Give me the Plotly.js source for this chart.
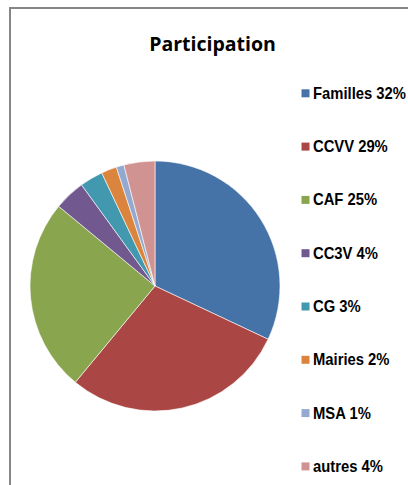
<!DOCTYPE html>
<html>
<head>
<meta charset="utf-8">
<script src="https://cdn.plot.ly/plotly-3.0.1.min.js"></script>
<style>html,body{margin:0;padding:0;background:#fff;}#chart{width:408px;height:485px;}</style>
</head>
<body>
<div id="chart"></div>
<script>
// ---- data ----
const categories = ['Familles', 'CCVV', 'CAF', 'CC3V', 'CG', 'Mairies', 'MSA', 'autres'];
const values = [32, 29, 25, 4, 3, 2, 1, 4];
const legendLabels = ['Familles 32%', 'CCVV 29%', 'CAF 25%', 'CC3V 4%', 'CG 3%', 'Mairies 2%', 'MSA 1%', 'autres 4%'];
const chartTitle = 'Participation';

// ---- styles ----
const sliceColors = ['#4572A7', '#AA4643', '#89A54E', '#71588F', '#4198AF', '#DB843D', '#93A9CF', '#D19392'];
const W = 408, H = 485;
const px = v => v / W;
const py = v => 1 - v / H;

const legendTop = 93.3, legendStep = 53.3, legendTextX = 311, condense = 0.87;
const legendFont = {family: '"Liberation Sans", Arial, sans-serif', size: 17, color: '#000', weight: 'bold'};

const annotations = legendLabels.map((t, i) => ({
  xref: 'paper', yref: 'paper',
  x: px(legendTextX), y: py(legendTop + i * legendStep),
  xanchor: 'left', yanchor: 'middle',
  text: t, showarrow: false,
  font: legendFont
}));

const shapes = [{
  type: 'rect', xref: 'paper', yref: 'paper',
  x0: px(10), x1: px(440), y0: py(520), y1: py(8),
  line: {color: '#868686', width: 2}, fillcolor: 'rgba(0,0,0,0)'
}].concat(legendLabels.map((t, i) => ({
  type: 'rect', xref: 'paper', yref: 'paper',
  x0: px(301.5), x1: px(309.5),
  y0: py(legendTop + i * legendStep + 4), y1: py(legendTop + i * legendStep - 4),
  line: {width: 0}, fillcolor: sliceColors[i]
})));

const trace = {
  type: 'pie',
  labels: categories,
  values: values,
  sort: false,
  direction: 'clockwise',
  rotation: 0,
  textinfo: 'none',
  hoverinfo: 'label+percent',
  marker: {colors: sliceColors, line: {color: '#ffffff', width: 0.6}},
  domain: {x: [px(30), px(280)], y: [py(411), py(161)]},
  showlegend: false
};

const layout = {
  width: W, height: H,
  margin: {l: 0, r: 0, t: 0, b: 0},
  paper_bgcolor: '#ffffff',
  showlegend: false,
  title: {
    text: chartTitle,
    x: px(212.5), xanchor: 'center',
    y: py(44), yanchor: 'middle',
    font: {family: '"Open Sans", "DejaVu Sans", sans-serif', size: 19.5, color: '#000', weight: 'bold'}
  },
  annotations: annotations,
  shapes: shapes
};

Plotly.newPlot('chart', [trace], layout, {displayModeBar: false, staticPlot: true}).then(gd => {
  // narrow (condensed) look of the legend labels, as in the reference
  gd.querySelectorAll('text.annotation-text').forEach(el => {
    const b = el.getBBox();
    el.setAttribute('transform', `translate(${b.x},0) scale(${condense},1) translate(${-b.x},0)`);
  });
});
</script>
</body>
</html>
